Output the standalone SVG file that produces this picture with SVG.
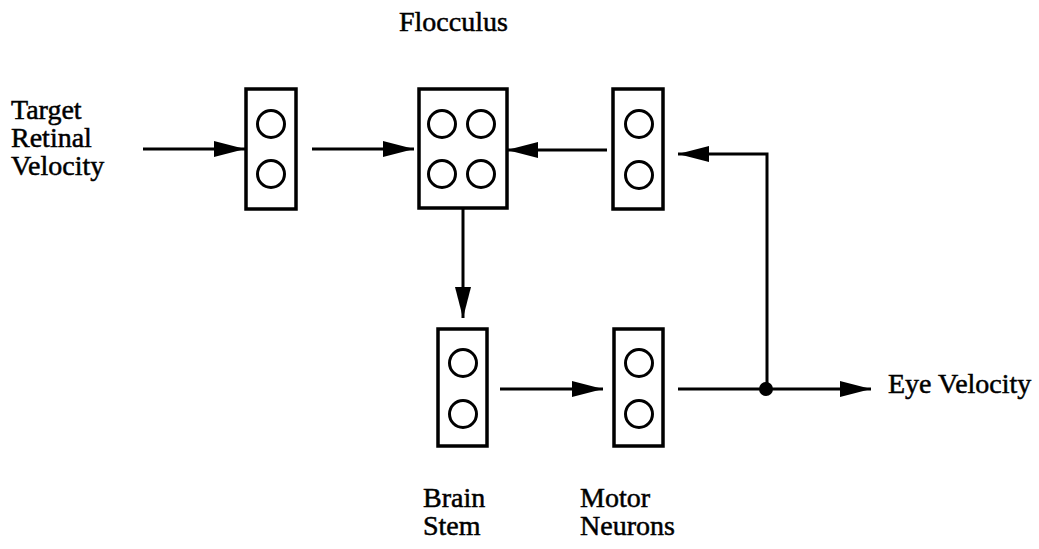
<svg xmlns="http://www.w3.org/2000/svg" width="1039" height="549" viewBox="0 0 1039 549">
<style>
.box{fill:#fff;stroke:#000;stroke-width:3.5}
.cell{fill:none;stroke:#000;stroke-width:3}
.wire{fill:none;stroke:#000;stroke-width:3}
.lbl{font-family:"Liberation Serif","Times New Roman",serif;font-size:28px;fill:#000;stroke:#000;stroke-width:0.5}
</style>
<defs>
<marker id="ah" markerUnits="userSpaceOnUse" markerWidth="32" markerHeight="18" refX="31" refY="9" orient="auto">
<path d="M0,1 L31,9 L0,17 z" fill="#000"/>
</marker>
</defs>
<rect width="1039" height="549" fill="#fff"/>
<g id="input-layer">
<rect class="box" x="246" y="89" width="50" height="120"/>
<circle class="cell" cx="271" cy="124" r="13.5"/>
<circle class="cell" cx="271" cy="174" r="13.5"/>
</g>
<g id="flocculus">
<rect class="box" x="419" y="89" width="88" height="119"/>
<circle class="cell" cx="442" cy="124" r="13.5"/>
<circle class="cell" cx="481" cy="124" r="13.5"/>
<circle class="cell" cx="442" cy="174" r="13.5"/>
<circle class="cell" cx="481" cy="174" r="13.5"/>
</g>
<g id="feedback-layer">
<rect class="box" x="613" y="89" width="50" height="120"/>
<circle class="cell" cx="639" cy="124" r="13.5"/>
<circle class="cell" cx="639" cy="175" r="13.5"/>
</g>
<g id="brain-stem">
<rect class="box" x="438" y="329" width="49" height="117"/>
<circle class="cell" cx="463" cy="363" r="13.5"/>
<circle class="cell" cx="463" cy="414" r="13.5"/>
</g>
<g id="motor-neurons">
<rect class="box" x="614" y="329" width="49" height="117"/>
<circle class="cell" cx="639" cy="363" r="13.5"/>
<circle class="cell" cx="639" cy="414" r="13.5"/>
</g>
<g id="connectors">
<line class="wire" x1="143" y1="149" x2="245" y2="149" marker-end="url(#ah)"/>
<line class="wire" x1="312" y1="149" x2="414" y2="149" marker-end="url(#ah)"/>
<line class="wire" x1="607" y1="150" x2="507" y2="150" marker-end="url(#ah)"/>
<polyline class="wire" points="767,389 767,154 678,154" marker-end="url(#ah)"/>
<line class="wire" x1="463" y1="208" x2="463" y2="318" marker-end="url(#ah)"/>
<line class="wire" x1="500" y1="389" x2="603" y2="389" marker-end="url(#ah)"/>
<line class="wire" x1="678" y1="389" x2="871" y2="389" marker-end="url(#ah)"/>
<circle cx="766" cy="389" r="7" fill="#000"/>
</g>
<g id="labels">
<text class="lbl" x="399" y="31">Flocculus</text>
<text class="lbl" x="11" y="119">Target</text>
<text class="lbl" x="11" y="147">Retinal</text>
<text class="lbl" x="11" y="175">Velocity</text>
<text class="lbl" x="888" y="393">Eye Velocity</text>
<text class="lbl" x="423" y="507">Brain</text>
<text class="lbl" x="423" y="535">Stem</text>
<text class="lbl" x="580" y="507">Motor</text>
<text class="lbl" x="580" y="535">Neurons</text>
</g>
</svg>
